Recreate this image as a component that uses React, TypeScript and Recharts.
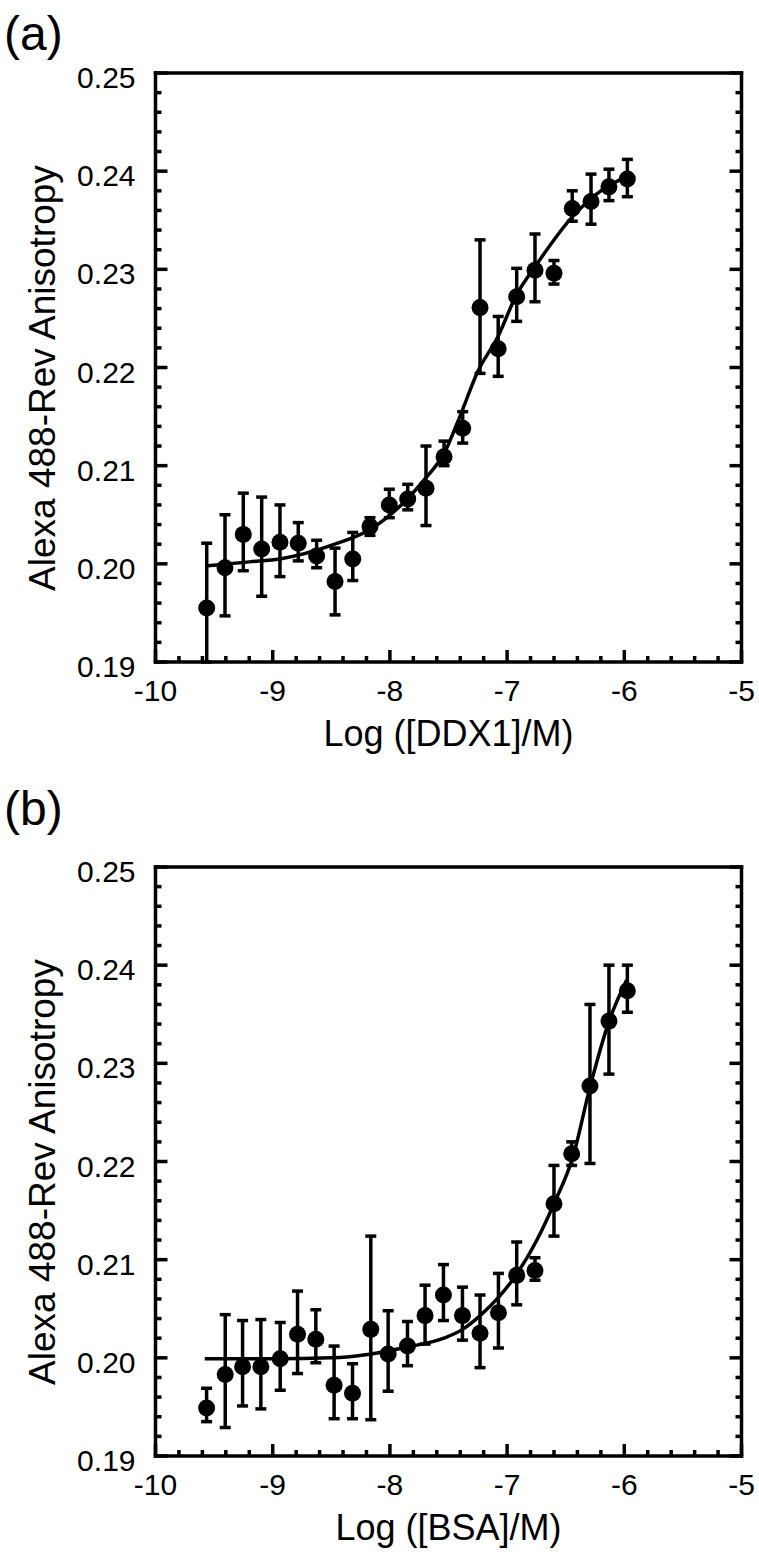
import React from 'react';
import { ComposedChart, Scatter, Line, XAxis, YAxis, ErrorBar, Label } from 'recharts';

const FONT = '"Liberation Sans", Arial, Helvetica, sans-serif';

// axis ticks (major, labelled)
const xMajor = [-10, -9, -8, -7, -6, -5];
const yMajor = [0.19, 0.2, 0.21, 0.22, 0.23, 0.24, 0.25];

// (a) DDX1 titration
const xA = [-9.563, -9.407, -9.251, -9.094, -8.938, -8.782, -8.625, -8.468, -8.317, -8.17, -8.005, -7.848, -7.692, -7.538, -7.379, -7.231, -7.076, -6.918, -6.762, -6.6, -6.444, -6.284, -6.131, -5.974];
const yA = [0.1955, 0.1996, 0.203, 0.2015, 0.2022, 0.2021, 0.2008, 0.1982, 0.2005, 0.2038, 0.206, 0.2066, 0.2077, 0.2109, 0.2138, 0.2261, 0.2219, 0.2272, 0.2299, 0.2296, 0.2362, 0.2369, 0.2384, 0.2392];
const hiA = [0.2021, 0.205, 0.2072, 0.2068, 0.206, 0.2042, 0.2024, 0.2016, 0.2032, 0.2047, 0.2076, 0.2081, 0.212, 0.2125, 0.2155, 0.233, 0.2252, 0.2301, 0.2336, 0.2309, 0.238, 0.2397, 0.2402, 0.2412];
const loA = [0.19, 0.1947, 0.1993, 0.1967, 0.1987, 0.2003, 0.1996, 0.1948, 0.1983, 0.2029, 0.2047, 0.2055, 0.2039, 0.21, 0.2123, 0.2194, 0.2191, 0.2247, 0.2267, 0.2285, 0.2349, 0.2346, 0.237, 0.2374];
const fitAx = [-9.56, -9.2, -8.94, -8.47, -8.17, -7.86, -7.69, -7.54, -7.41, -7.25, -7.08, -6.92, -6.76, -6.44, -6.2, -5.97];
const fitAy = [0.1998, 0.2002, 0.2005, 0.202, 0.2035, 0.2065, 0.2088, 0.2112, 0.2148, 0.2196, 0.2231, 0.2274, 0.2303, 0.2354, 0.238, 0.2395];

// (b) BSA control
const xB = [-9.564, -9.405, -9.257, -9.101, -8.936, -8.788, -8.632, -8.476, -8.319, -8.163, -8.015, -7.85, -7.7, -7.543, -7.381, -7.231, -7.074, -6.918, -6.762, -6.6, -6.449, -6.293, -6.131, -5.974];
const yB = [0.1949, 0.1983, 0.1991, 0.1991, 0.1999, 0.2024, 0.2019, 0.1972, 0.1964, 0.2029, 0.2004, 0.2012, 0.2043, 0.2064, 0.2043, 0.2025, 0.2046, 0.2084, 0.2089, 0.2157, 0.2208, 0.2277, 0.2343, 0.2374];
const hiB = [0.1969, 0.2044, 0.2038, 0.2039, 0.2036, 0.2068, 0.2049, 0.2012, 0.1994, 0.2124, 0.2048, 0.2037, 0.2074, 0.2095, 0.2072, 0.2064, 0.2086, 0.2118, 0.2102, 0.2196, 0.222, 0.236, 0.24, 0.24];
const loB = [0.1935, 0.1929, 0.1951, 0.1948, 0.1967, 0.1984, 0.1995, 0.1938, 0.1938, 0.1937, 0.1966, 0.1992, 0.2014, 0.2038, 0.2018, 0.199, 0.201, 0.2054, 0.2079, 0.2124, 0.2196, 0.2198, 0.2289, 0.2352];
const fitBx = [-9.58, -9.0, -8.5, -8.16, -7.85, -7.54, -7.38, -7.23, -7.07, -6.92, -6.75, -6.6, -6.44, -6.29, -6.13, -5.98];
const fitBy = [0.1999, 0.1999, 0.2, 0.2004, 0.2011, 0.202, 0.2029, 0.2043, 0.2062, 0.2085, 0.2119, 0.2157, 0.2204, 0.2277, 0.2343, 0.2385];

// split each major interval into 5 for the minor ticks
function withMinor(major: number[]) {
  const out: number[] = [];
  for (let i = 0; i < major.length - 1; i++) {
    const step = (major[i + 1] - major[i]) / 5;
    for (let k = 0; k < 5; k++) out.push(+(major[i] + k * step).toFixed(4));
  }
  out.push(major[major.length - 1]);
  return out;
}
const xTicks = withMinor(xMajor);
const yTicks = withMinor(yMajor);

const isMajor = (v: number, list: number[]) => list.some((m) => Math.abs(m - v) < 1e-6);

type Side = 'bottom' | 'top' | 'left' | 'right';

function makeTick(side: Side, labels: boolean) {
  return (props: any) => {
    const { x, y, payload } = props;
    const v = payload.value as number;
    const major = isMajor(v, side === 'bottom' || side === 'top' ? xMajor : yMajor);
    const len = major ? 12 : 6;
    let line;
    if (side === 'bottom') line = <line x1={x} y1={y} x2={x} y2={y - len} />;
    else if (side === 'top') line = <line x1={x} y1={y} x2={x} y2={y + len} />;
    else if (side === 'left') line = <line x1={x} y1={y} x2={x + len} y2={y} />;
    else line = <line x1={x} y1={y} x2={x - len} y2={y} />;
    return (
      <g>
        <g stroke="#000" strokeWidth={3.5}>{line}</g>
        {labels && major && side === 'bottom' && (
          <text x={x} y={y + 39} textAnchor="middle" fontSize={30} fontFamily={FONT} fill="#000">{String(v)}</text>
        )}
        {labels && major && side === 'left' && (
          <text x={x - 20} y={y + 15} textAnchor="end" fontSize={30} fontFamily={FONT} fill="#000">{v.toFixed(2)}</text>
        )}
      </g>
    );
  };
}

const dot = (p: any) => <circle cx={p.cx} cy={p.cy} r={8.5} fill="#000" />;
const axisLine = { stroke: '#000', strokeWidth: 3.5, strokeLinecap: 'square' as const };

interface PanelProps {
  xs: number[]; ys: number[]; hi: number[]; lo: number[];
  fx: number[]; fy: number[];
  xLabel: string; height: number;
}

function Panel({ xs, ys, hi, lo, fx, fy, xLabel, height }: PanelProps) {
  const points = xs.map((x, i) => ({ x, y: ys[i], err: [ys[i] - lo[i], hi[i] - ys[i]] }));
  const fit = fx.map((x, i) => ({ x, y: fy[i] }));
  const plotTop = 73;
  const plotH = 589;
  // axes are 1px thick boxes so recharts still draws them
  return (
    <ComposedChart width={759} height={height} margin={{ top: plotTop - 1, right: 16.5, bottom: height - plotTop - plotH - 1, left: 154.5 }}>
      <XAxis xAxisId={0} dataKey="x" type="number" domain={[-10, -5]} ticks={xTicks} interval={0} allowDataOverflow
        height={1} tickSize={0} tickMargin={0} tickLine={false} axisLine={axisLine} tick={makeTick('bottom', true)}>
        <Label content={(p: any) => (
          <text x={p.viewBox.x + p.viewBox.width / 2} y={p.viewBox.y + 83.5} textAnchor="middle" fontSize={36} fontFamily={FONT} fill="#000">{xLabel}</text>
        )} />
      </XAxis>
      <XAxis xAxisId="top" orientation="top" type="number" domain={[-10, -5]} ticks={xTicks} interval={0} allowDataOverflow
        height={1} tickSize={0} tickMargin={0} tickLine={false} axisLine={axisLine} tick={makeTick('top', false)} />
      <YAxis yAxisId={0} dataKey="y" type="number" domain={[0.19, 0.25]} ticks={yTicks} interval={0} allowDataOverflow
        width={1} tickSize={0} tickMargin={0} tickLine={false} axisLine={axisLine} tick={makeTick('left', true)}>
        <Label content={(p: any) => {
          const cx = 55;
          const cy = p.viewBox.y + p.viewBox.height / 2 + 10.5;
          return (
            <text x={cx} y={cy} transform={`rotate(-90 ${cx} ${cy})`} textAnchor="middle" fontSize={37} fontFamily={FONT} fill="#000">
              Alexa 488-Rev Anisotropy
            </text>
          );
        }} />
      </YAxis>
      <YAxis yAxisId="right" orientation="right" type="number" domain={[0.19, 0.25]} ticks={yTicks} interval={0} allowDataOverflow
        width={1} tickSize={0} tickMargin={0} tickLine={false} axisLine={axisLine} tick={makeTick('right', false)} />
      <Line data={fit} dataKey="y" type="monotone" stroke="#000" strokeWidth={3.5} dot={false} activeDot={false} isAnimationActive={false} />
      <Scatter data={points} dataKey="y" shape={dot} isAnimationActive={false}>
        <ErrorBar dataKey="err" direction="y" width={5.5} stroke="#000" strokeWidth={3.5} isAnimationActive={false} />
      </Scatter>
    </ComposedChart>
  );
}

const letterStyle: React.CSSProperties = {
  position: 'absolute', left: 4, fontSize: 48, lineHeight: '48px', fontFamily: FONT, color: '#000',
};

export default function App() {
  return (
    <div style={{ position: 'absolute', left: 0, top: 0, width: 759, height: 1561, overflow: 'hidden', background: '#fff' }}>
      <div style={{ ...letterStyle, top: 10 }}>(a)</div>
      <div style={{ position: 'absolute', left: 0, top: 0 }}>
        <Panel xs={xA} ys={yA} hi={hiA} lo={loA} fx={fitAx} fy={fitAy} xLabel="Log ([DDX1]/M)" height={780} />
      </div>
      <div style={{ ...letterStyle, top: 785 }}>(b)</div>
      <div style={{ position: 'absolute', left: 0, top: 794 }}>
        <Panel xs={xB} ys={yB} hi={hiB} lo={loB} fx={fitBx} fy={fitBy} xLabel="Log ([BSA]/M)" height={767} />
      </div>
    </div>
  );
}
